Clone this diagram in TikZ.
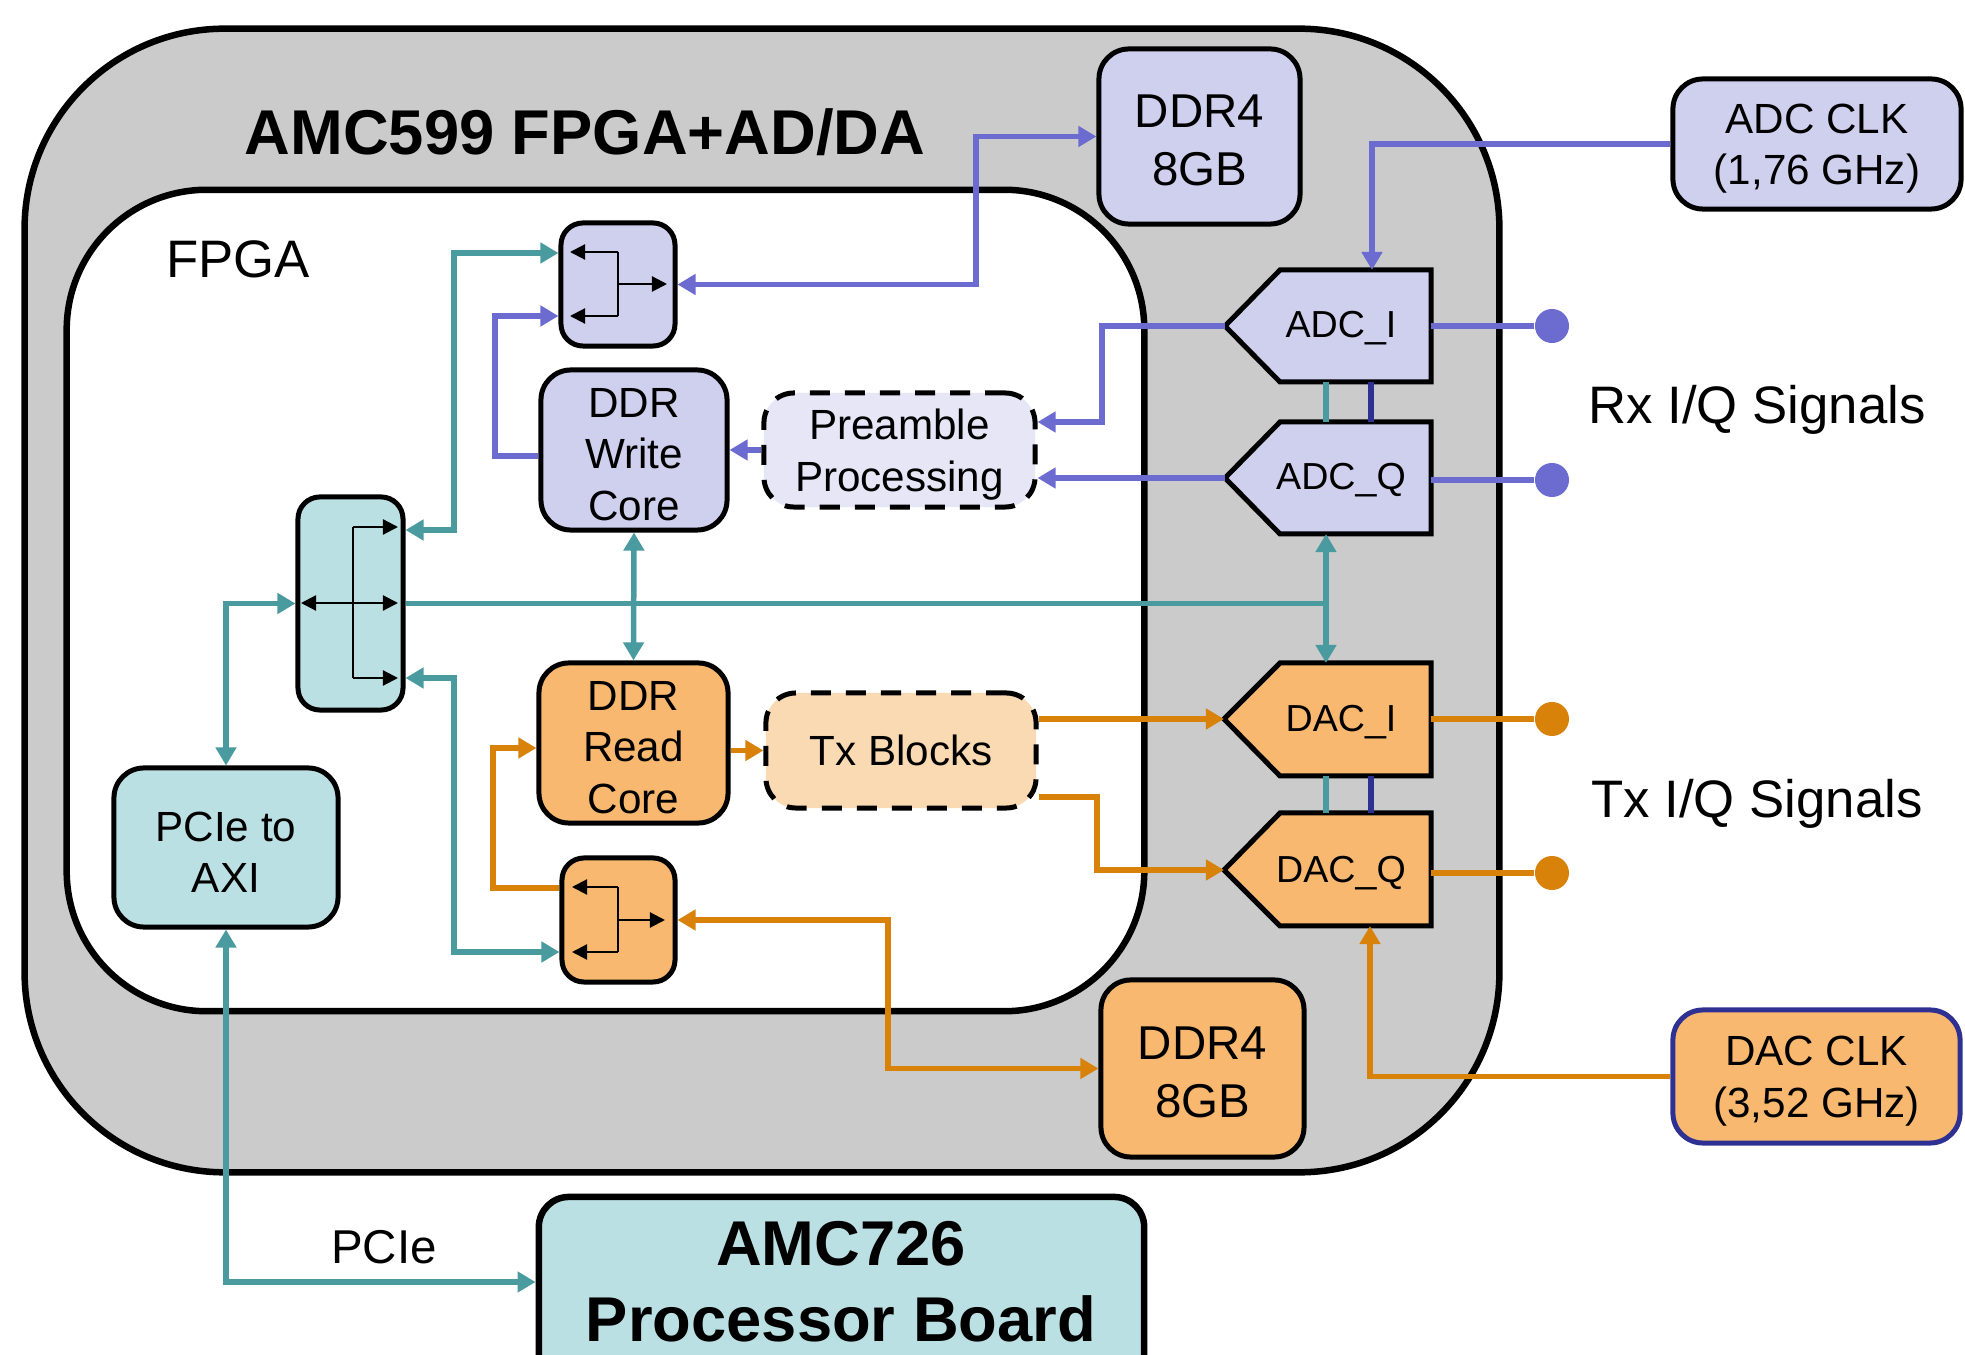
\documentclass[tikz,border=0pt]{standalone}
\usepackage{fontspec}
\setmainfont{Liberation Sans}
\usetikzlibrary{arrows.meta,calc}
\definecolor{gfill}{HTML}{CBCBCB}
\definecolor{pfill}{HTML}{CFCFEE}
\definecolor{pfill2}{HTML}{E6E6F7}
\definecolor{pline}{HTML}{6B6BD0}
\definecolor{ofill}{HTML}{F8B870}
\definecolor{ofill2}{HTML}{FADAB2}
\definecolor{oline}{HTML}{D8820A}
\definecolor{tfill}{HTML}{BBE0E3}
\definecolor{tline}{HTML}{4A9BA0}
\definecolor{dblue}{HTML}{2E3192}
\newcommand\fsTitle{\fontsize{18}{21.6}\selectfont\bfseries}
\newcommand\fsDDR{\fontsize{13.5}{16.4}\selectfont}
\newcommand\fsBody{\fontsize{12}{14.6}\selectfont}
\newcommand\fsSmall{\fontsize{10.7}{12.8}\selectfont}
\newcommand\fsSig{\fontsize{15}{18}\selectfont}
\begin{document}
\begin{tikzpicture}[x=0.01cm,y=-0.01cm,>={Triangle[width=0.2cm,length=0.18cm]}]
\tikzset{
 bx/.style={draw=black,line width=0.05cm,rounded corners=0.3cm,align=center,inner sep=0pt,font=\fsBody},
 dbx/.style={bx,dash pattern=on 0.2cm off 0.15cm},
 pbx/.style={bx,fill=pfill},
 obx/.style={bx,fill=ofill},
 tbx/.style={bx,fill=tfill},
 lb/.style={label={[font=\fsBody,align=center,yshift=-0.045cm]center:{#1}}},
 lbd/.style={label={[font=\fsDDR,align=center,yshift=-0.04cm]center:{#1}}},
 cn/.style={line width=0.055cm},
 pc/.style={cn,draw=pline},
 tc/.style={cn,draw=tline},
 oc/.style={cn,draw=oline},
 bk/.style={line width=0.022cm,draw=black,-{Triangle[width=0.15cm,length=0.15cm]}},
 conv/.style={draw=black,line width=0.05cm,line join=miter},
 dotn/.style={circle,minimum size=0.34cm,inner sep=0pt},
 sz/.style 2 args={minimum width=#1cm,minimum height=#2cm},
}
\useasboundingbox (0,0) rectangle (1965,1355);
\clip (0,0) rectangle (1965,1355);

% containers
\node[draw=black,fill=gfill,line width=0.065cm,rounded corners=2cm,inner sep=0pt,sz={14.74}{11.43}] (board) at (762,600.5) {};
\node[draw=black,fill=white,line width=0.065cm,rounded corners=1.4cm,inner sep=0pt,sz={10.77}{8.21}] (fpga) at (605.5,600.5) {};
\node[font=\fsTitle] (title) at (585,132) {AMC599 FPGA+AD/DA};
\node[font=\fsSig] (fpgalbl) at (238,259) {FPGA};

% blocks
\node[pbx,sz={2.01}{1.75},lbd={DDR4\\8GB}] (ddrt) at (1199.5,136.5) {};
\node[pbx,sz={2.88}{1.30},lb={ADC CLK\\(1,76 GHz)}] (adcclk) at (1817,144) {};
\node[pbx,rounded corners=0.22cm,sz={1.14}{1.23}] (icp) at (618,284.5) {};
\node[pbx,sz={1.86}{1.60},lb={DDR\\Write\\Core}] (wcore) at (634,450) {};
\node[dbx,fill=pfill2,sz={2.71}{1.14},lb={Preamble\\Processing}] (pre) at (899.5,450) {};
\node[tbx,rounded corners=0.22cm,sz={1.05}{2.13}] (ict) at (350.5,603.5) {};
\node[obx,sz={1.89}{1.60},lb={DDR\\Read\\Core}] (rcore) at (633.5,743) {};
\node[dbx,fill=ofill2,sz={2.70}{1.15}] (tx) at (901,750.5) {Tx Blocks};
\node[obx,rounded corners=0.22cm,sz={1.13}{1.24}] (ico) at (618.5,920) {};
\node[obx,sz={2.03}{1.77},lbd={DDR4\\8GB}] (ddrb) at (1202.5,1068.5) {};
\node[obx,draw=dblue,sz={2.87}{1.33},lb={DAC CLK\\(3,52 GHz)}] (dacclk) at (1816.5,1076.5) {};
\node[tbx,sz={2.24}{1.59},lb={PCIe to\\AXI}] (pcie) at (226,847.5) {};
\node[tbx,line width=0.065cm,sz={6.05}{2.23}] (amc) at (841.5,1308.5) {};
\node[font=\fsTitle,align=center] (amctext) at (841,1282) {AMC726\\Processor Board};

% converters
\draw[conv,fill=pfill] (1225,326) -- (1280,270) -- (1431,270) -- (1431,382) -- (1280,382) -- cycle;
\draw[conv,fill=pfill] (1225,478) -- (1280,422) -- (1431,422) -- (1431,534) -- (1280,534) -- cycle;
\draw[conv,fill=ofill] (1224,719) -- (1280,663) -- (1431,663) -- (1431,776) -- (1280,776) -- cycle;
\draw[conv,fill=ofill] (1224,870) -- (1280,813) -- (1431,813) -- (1431,926) -- (1280,926) -- cycle;
\node[font=\fsSmall] (adci) at (1341,328) {ADC\_I};
\node[font=\fsSmall] (adcq) at (1341,480) {ADC\_Q};
\node[font=\fsSmall] (daci) at (1341,722) {DAC\_I};
\node[font=\fsSmall] (dacq) at (1341,873) {DAC\_Q};
\coordinate (adciL) at (1225,326); \coordinate (adciR) at (1431,326); \coordinate (adciT) at (1372,270);
\coordinate (adciB1) at (1326,382); \coordinate (adciB2) at (1371,382);
\coordinate (adcqL) at (1225,478); \coordinate (adcqR) at (1431,480);
\coordinate (adcqT1) at (1326,422); \coordinate (adcqT2) at (1371,422); \coordinate (adcqB1) at (1326,534);
\coordinate (daciL) at (1224,719); \coordinate (daciR) at (1431,719); \coordinate (daciT1) at (1326,663);
\coordinate (daciB1) at (1326,776); \coordinate (daciB2) at (1371,776);
\coordinate (dacqL) at (1224,870); \coordinate (dacqR) at (1431,873);
\coordinate (dacqT1) at (1326,813); \coordinate (dacqT2) at (1371,813); \coordinate (dacqB) at (1370,926);

% output dots
\node[dotn,fill=pline] (rxi) at (1552,326) {};
\node[dotn,fill=pline] (rxq) at (1552,480) {};
\node[dotn,fill=oline] (txi) at (1552,719) {};
\node[dotn,fill=oline] (txq) at (1552,873) {};
\node[font=\fsSig] (rxlbl) at (1757,410) {Rx I/Q Signals};
\node[font=\fsSig] (txlbl) at (1757,804) {Tx I/Q Signals};
\node[font=\fsDDR] (pcielbl) at (384,1247) {PCIe};

% level helpers
\coordinate (h253) at (0,253);
\coordinate (h316) at (0,316);
\coordinate (h422) at (0,422);
\coordinate (h456) at (0,456);
\coordinate (h530) at (0,530);
\coordinate (h678) at (0,678);
\coordinate (h748) at (0,748);
\coordinate (h797) at (0,797);
\coordinate (h888) at (0,888);
\coordinate (h952) at (0,952);
\coordinate (h1282) at (0,1282);

% internal switch arrows
\draw[line width=0.022cm] (618,252) -- (618,316);
\draw[bk] (618,252) -- (570,252);
\draw[bk] (618,316) -- (570,316);
\draw[bk] (618,284) -- (667,284);
\draw[line width=0.022cm] (353,527) -- (353,678);
\draw[bk] (353,527) -- (398,527);
\draw[bk] (353,678) -- (398,678);
\draw[bk,{Triangle[width=0.15cm,length=0.15cm]}-{Triangle[width=0.15cm,length=0.15cm]}] (301,603) -- (398,603);
\draw[line width=0.022cm] (618,887) -- (618,952);
\draw[bk] (618,887) -- (572,887);
\draw[bk] (618,952) -- (572,952);
\draw[bk] (618,920) -- (665,920);

% converter links
\draw[tc] (adciB1) -- (adcqT1);
\draw[cn,draw=dblue] (adciB2) -- (adcqT2);
\draw[tc] (daciB1) -- (dacqT1);
\draw[cn,draw=dblue] (daciB2) -- (dacqT2);
\draw[pc] (adciR) -- (rxi);
\draw[pc] (adcqR) -- (rxq);
\draw[oc] (daciR) -- (txi);
\draw[oc] (dacqR) -- (txq);

% connectors
\draw[pc,<->] (icp.east) -- (976,284.5) |- (ddrt.west);
\draw[tc,<->] (ict.east |- h530) -| (454,253) -- (icp.west |- h253);
\draw[pc,->] (wcore.west |- h456) -| (495,316) -- (icp.west |- h316);
\draw[tc,<->] (wcore.south) -- (rcore.north);
\draw[pc,->] (pre.west) -- (wcore.east |- pre.west);
\draw[pc,->] (adciL) -| (1102,422) -- (pre.east |- h422);
\draw[pc,->] (adcqL) -- (pre.east |- adcqL);
\draw[tc,<->] (pcie.north) |- (ict.west);
\draw[tc] (ict.east) -- (1326,603.5);
\draw[tc,<->] (adcqB1) -- (daciT1);
\draw[tc,<->] (ict.east |- h678) -| (454,952) -- (ico.west |- h952);
\draw[oc,->] (ico.west |- h888) -| (493,748) -- (rcore.west |- h748);
\draw[oc,->] (rcore.east |- tx.west) -- (tx.west);
\draw[oc,->] (tx.east |- daciL) -- (daciL);
\draw[oc,->] (tx.east |- h797) -| (1097,870) -- (dacqL);
\draw[oc,<->] (ico.east) -- (888,920) |- (ddrb.west);
\draw[oc,->] (dacclk.west) -| (dacqB);
\draw[pc,->] (adcclk.west) -| (adciT);
\draw[tc,<->] (pcie.south) |- (amc.west |- h1282);
\end{tikzpicture}
\end{document}
